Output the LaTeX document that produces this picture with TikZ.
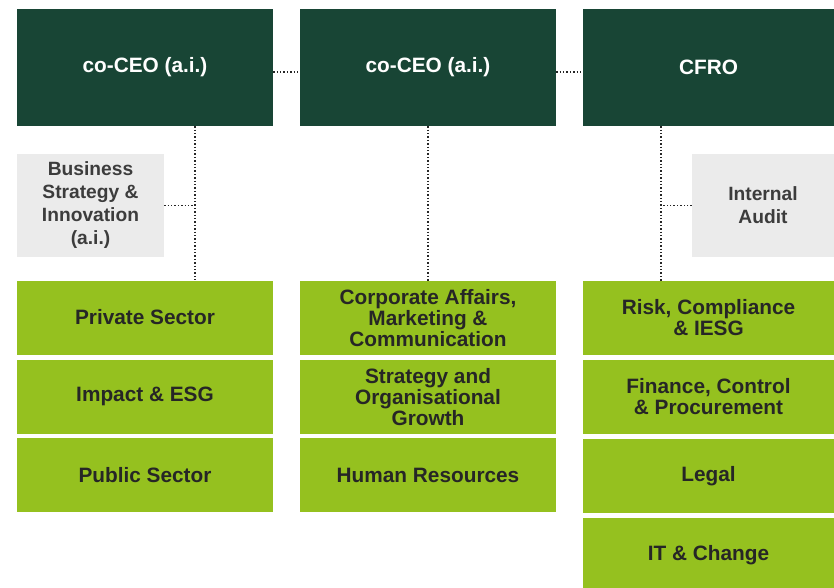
\documentclass[tikz,border=0pt]{standalone}
\usepackage{fontspec}
\setmainfont{Liberation Sans}
\usepackage{xcolor}
\usetikzlibrary{positioning}
\definecolor{boardgreen}{HTML}{184535}
\definecolor{unitgreen}{HTML}{95C11F}
\definecolor{staffgrey}{HTML}{EBEBEB}
\definecolor{inkgrey}{HTML}{262626}

\begin{document}
\begin{tikzpicture}[x=1pt, y=-1pt,
    font=\bfseries\fontsize{20.8}{21}\selectfont,
    board/.style={fill=boardgreen, text=white, minimum width=256pt, minimum height=117pt, inner sep=0pt, align=center},
    unit/.style={fill=unitgreen, text=inkgrey, minimum width=256pt, minimum height=74pt, inner sep=0pt, align=center},
    staff/.style={fill=staffgrey, text=inkgrey!90, minimum height=103pt, inner sep=0pt, align=center, font=\bfseries\fontsize{19.2}{23}\selectfont},
    link/.style={line width=1.4pt, dash pattern=on 1.4pt off 2pt, inkgrey}]
  \useasboundingbox (0,0) rectangle (834,587);
  % board
  \node (ceoA) [board] at (145,67.5) {co-CEO (a.i.)};
  \node (ceoB) [board] at (428,67.5) {co-CEO (a.i.)};
  \node (cfro) [board, minimum width=251pt] at (708.5,67.5) {CFRO};
  % staff units
  \node (bsi) [staff, minimum width=147pt] at (90.5,205.5) {Business\\Strategy \&\\Innovation\\(a.i.)};
  \node (audit) [staff, minimum width=142pt] at (763,205.5) {Internal\\Audit};
  % left column
  \node (private) [unit] at (145,317.5) {Private Sector};
  \node (impact) [unit] at (145,396.5) {Impact \& ESG};
  \node (public) [unit] at (145,475) {Public Sector};
  % middle column
  \node (corporate) [unit] at (428,318) {Corporate Affairs,\\Marketing \&\\Communication};
  \node (growth) [unit] at (428,397) {Strategy and\\Organisational\\Growth};
  \node (hr) [unit] at (428,475) {Human Resources};
  % right column (last box runs off the page)
  \node (risk) [unit, minimum width=251pt] at (708.5,318) {Risk, Compliance\\\& IESG};
  \node (finance) [unit, minimum width=251pt] at (708.5,397) {Finance, Control\\\& Procurement};
  \node (legal) [unit, minimum width=251pt] at (708.5,476) {Legal};
  \node (it) [unit, minimum width=251pt] at (708.5,555) {IT \& Change};
  % dotted reporting lines
  \draw[link] ([yshift=-4.5pt]ceoA.east) -- ([yshift=-4.5pt]ceoB.west);
  \draw[link] ([yshift=-4.5pt]ceoB.east) -- ([yshift=-4.5pt]cfro.west);
  \draw[link] ([xshift=50pt]ceoA.south) coordinate (spineA) -- (spineA |- private.north);
  \draw[link] (ceoB.south) -- (corporate.north);
  \draw[link] ([xshift=-47.5pt]cfro.south) coordinate (spineC) -- (spineC |- risk.north);
  \draw[link] (bsi.east) -- (spineA |- bsi.east);
  \draw[link] (audit.west) -- (spineC |- audit.west);
\end{tikzpicture}
\end{document}
